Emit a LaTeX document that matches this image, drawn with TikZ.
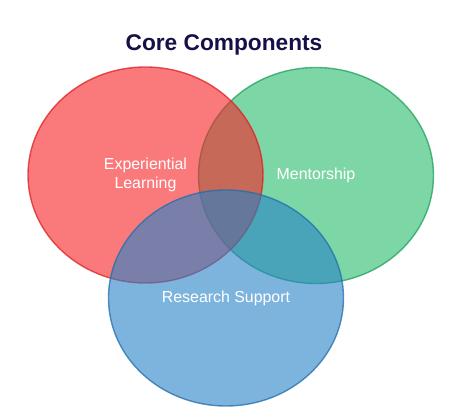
\documentclass[tikz,border=0pt]{standalone}
\usepackage{fontspec}
\setmainfont{Liberation Sans}
\usepackage{tikz}
\usetikzlibrary{shapes.geometric}
\definecolor{setred}{RGB}{247, 33, 37}
\definecolor{setgreen}{RGB}{38, 187, 107}
\definecolor{setblue}{RGB}{38, 130, 200}
\definecolor{titlenavy}{RGB}{22, 16, 72}

\begin{document}
\begin{tikzpicture}[x=1pt, y=-1pt,
  set/.style={ellipse, minimum width=235pt, minimum height=216pt,
    inner sep=0pt, line width=1.4pt, fill opacity=0.6, draw opacity=0.75,
    text opacity=1, text=white, align=center,
    font=\fontsize{15.9}{18.3}\selectfont},
  heading/.style={font=\fontsize{22.7}{26}\selectfont\bfseries, text=titlenavy}
]
  \useasboundingbox (0,0) rectangle (464,411);
  \node[heading] (title) at (224,45) {Core Components};
  \node[set, fill=setgreen, draw=setgreen!85!black] (ment) at (316,175.5) {Mentorship};
  \node[set, fill=setred, draw=setred!90!black]     (expl) at (145.5,175) {Experiential\\Learning};
  \node[set, fill=setblue, draw=setblue!85!black]   (rsch) at (226,298) {Research Support};
\end{tikzpicture}
\end{document}
